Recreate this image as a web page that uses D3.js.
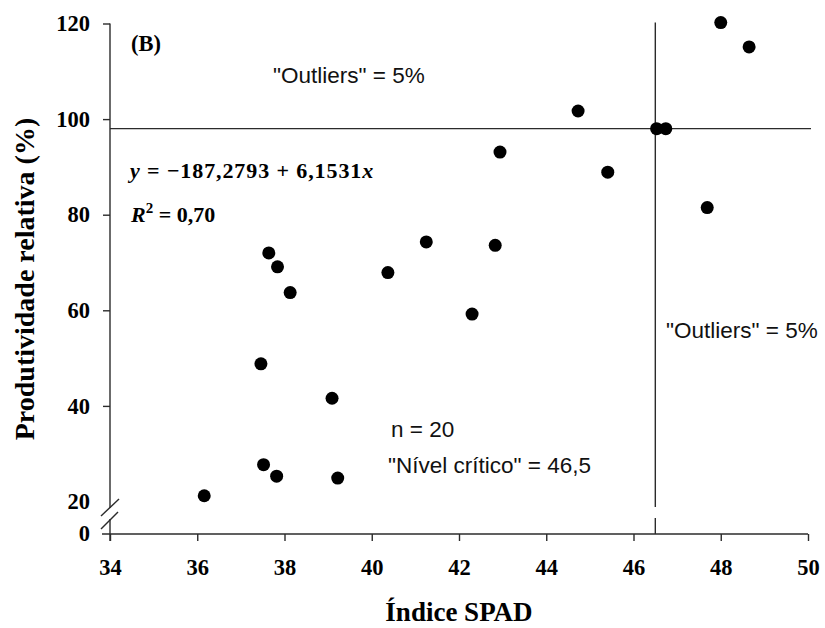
<!DOCTYPE html>
<html>
<head>
<meta charset="utf-8">
<script src="https://cdn.jsdelivr.net/npm/d3@7"></script>
<style>
  html, body { margin: 0; padding: 0; background: #fff; }
  svg { display: block; }
</style>
</head>
<body>
<svg id="chart" width="825" height="628"></svg>
<script>
// ---- data ----
const spadIndex = [36.16, 37.46, 37.52, 37.64, 37.84, 37.82, 38.13, 39.09, 39.22, 40.37, 41.25, 42.30, 42.83, 42.94, 44.73, 45.41, 46.53, 46.74, 47.69, 48.00, 48.65];
const relYield  = [21.2, 48.8, 27.7, 72.0, 69.1, 25.3, 63.7, 41.6, 24.9, 67.9, 74.3, 59.2, 73.6, 93.1, 101.7, 88.9, 98.0, 98.0, 81.5, 120.2, 115.1];
const xTicks = [34, 36, 38, 40, 42, 44, 46, 48, 50];
const yTicks = [20, 40, 60, 80, 100, 120];
const criticalLevel = 46.5;
const yieldRef = 98;

const svg = d3.select("#chart");
const serif = "'Liberation Serif', 'Times New Roman', Times, serif";
const sans = "'Liberation Sans', Arial, Helvetica, sans-serif";
const lineColor = "#2b2b2b";

const x = d3.scaleLinear().domain([34, 50]).range([110, 808]);
const y = d3.scaleLinear().domain([20, 120]).range([501.5, 23.5]);
const zeroY = 534;            // position of the "0" at the broken axis
const breakTop = 507, breakBottom = 518;

// ---- x axis ----
const gx = svg.append("g").attr("transform", `translate(0,${zeroY})`)
  .call(d3.axisBottom(x).tickValues(xTicks).tickSize(7).tickPadding(18).tickFormat(d3.format("d")));
gx.select(".domain").remove();
gx.append("line").attr("x1", 102).attr("x2", x(50)).attr("stroke", lineColor).attr("stroke-width", 1.4);
gx.selectAll(".tick line").attr("stroke", lineColor).attr("stroke-width", 1.4);
gx.selectAll(".tick text").attr("fill", "#000").style("font-family", serif).style("font-weight", "bold").style("font-size", "22.5px");

// ---- y axis (broken) ----
const gy = svg.append("g").attr("transform", `translate(${x(34)},0)`)
  .call(d3.axisLeft(y).tickValues(yTicks).tickSize(7).tickPadding(13).tickFormat(d3.format("d")));
gy.select(".domain").remove();
gy.selectAll(".tick line").attr("stroke", lineColor).attr("stroke-width", 1.4)
  .filter(d => d === 20).remove();
gy.selectAll(".tick text").attr("fill", "#000").style("font-family", serif).style("font-weight", "bold").style("font-size", "22.5px");
// zero label
gy.append("text").attr("x", -20).attr("y", zeroY).attr("dy", "0.32em").attr("text-anchor", "end")
  .attr("fill", "#000").style("font-family", serif).style("font-weight", "bold").style("font-size", "22.5px").text("0");
// axis line segments
gy.append("line").attr("x1", 0).attr("x2", 0).attr("y1", y(120)).attr("y2", breakTop + 1).attr("stroke", lineColor).attr("stroke-width", 1.4);
gy.append("line").attr("x1", 0).attr("x2", 0).attr("y1", breakBottom + 1).attr("y2", zeroY + 7).attr("stroke", lineColor).attr("stroke-width", 1.4);
// break marks
[[ -9, breakTop + 9, 9, breakTop - 8 ], [ -9, breakBottom + 11, 8, breakBottom - 6 ]].forEach(s => {
  gy.append("line").attr("x1", s[0]).attr("y1", s[1]).attr("x2", s[2]).attr("y2", s[3])
    .attr("stroke", lineColor).attr("stroke-width", 1.4);
});

// ---- reference lines ----
svg.append("line").attr("x1", x(34)).attr("x2", x(50) + 3).attr("y1", y(yieldRef)).attr("y2", y(yieldRef))
  .attr("stroke", lineColor).attr("stroke-width", 1.4);
svg.append("line").attr("x1", x(criticalLevel)).attr("x2", x(criticalLevel)).attr("y1", y(120) - 1).attr("y2", breakTop)
  .attr("stroke", lineColor).attr("stroke-width", 1.4);
svg.append("line").attr("x1", x(criticalLevel)).attr("x2", x(criticalLevel)).attr("y1", breakBottom).attr("y2", zeroY)
  .attr("stroke", lineColor).attr("stroke-width", 1.4);

// ---- points ----
svg.append("g").selectAll("circle").data(spadIndex.map((v, i) => [v, relYield[i]])).join("circle")
  .attr("cx", d => x(d[0])).attr("cy", d => y(d[1])).attr("r", 6.5).attr("fill", "#000");

// ---- annotations ----
svg.append("text").attr("x", 131).attr("y", 51).style("font-family", serif).style("font-weight", "bold").style("font-size", "22.5px").text("(B)");

const sansText = (tx, ty, t) => svg.append("text").attr("x", tx).attr("y", ty)
  .style("font-family", sans).style("font-size", "22.5px").attr("fill", "#111").text(t);
sansText(273, 83, "\"Outliers\" = 5%");
sansText(666, 338, "\"Outliers\" = 5%");
sansText(391, 437, "n = 20");
sansText(388, 473, "\"Nível crítico\" = 46,5");

const eq = svg.append("text").attr("x", 130).attr("y", 178)
  .style("font-family", serif).style("font-weight", "bold").style("font-size", "22px").style("letter-spacing", "0.9px");
eq.append("tspan").style("font-style", "italic").text("y");
eq.append("tspan").text(" = \u2212187,2793 + 6,1531");
eq.append("tspan").style("font-style", "italic").text("x");

const r2 = svg.append("text").attr("x", 131).attr("y", 222)
  .style("font-family", serif).style("font-weight", "bold").style("font-size", "22px");
r2.append("tspan").style("font-style", "italic").text("R");
r2.append("tspan").attr("dy", -9).style("font-size", "15px").text("2");
r2.append("tspan").attr("dy", 9).text(" = 0,70");

// ---- axis titles ----
svg.append("text").attr("x", (x(34) + x(50)) / 2).attr("y", 621).attr("text-anchor", "middle")
  .style("font-family", serif).style("font-weight", "bold").style("font-size", "27px").text("Índice SPAD");
svg.append("text").attr("transform", "translate(34,279) rotate(-90)").attr("text-anchor", "middle")
  .style("font-family", serif).style("font-weight", "bold").style("font-size", "28px").text("Produtividade relativa (%)");
</script>
</body>
</html>
